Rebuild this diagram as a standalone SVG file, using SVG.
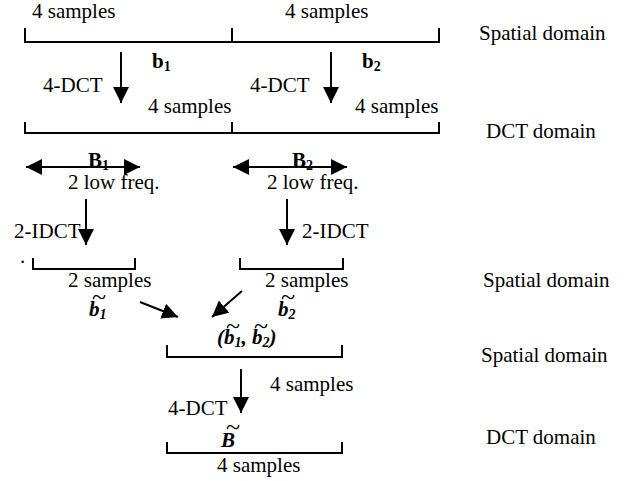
<svg xmlns="http://www.w3.org/2000/svg" width="636" height="481" viewBox="0 0 636 481">
<style>
.t,.b,.bi{font-family:'Liberation Serif','Times New Roman',serif;font-size:21px;fill:#000}
.b{font-weight:bold}
.bi{font-weight:bold;font-style:italic}
.sub{font-size:14px}
.tl{font-size:26px;font-style:normal;font-weight:normal}
.ln{stroke:#000;stroke-width:2;fill:none}
</style>
<defs>
<marker id="ah" markerUnits="userSpaceOnUse" markerWidth="16" markerHeight="16" refX="15" refY="7.5" orient="auto-start-reverse" viewBox="0 0 15 15">
<path d="M0,0 L15,7.5 L0,15 z" fill="#000"/>
</marker>
</defs>
<rect width="636" height="481" fill="#fff"/>

<g id="connectors">
<line class="ln" x1="121" y1="52" x2="121" y2="103" marker-end="url(#ah)"/>
<line class="ln" x1="331" y1="52" x2="331" y2="103" marker-end="url(#ah)"/>
<line class="ln" x1="26" y1="167" x2="140" y2="167" marker-start="url(#ah)" marker-end="url(#ah)"/>
<line class="ln" x1="233" y1="167" x2="347" y2="167" marker-start="url(#ah)" marker-end="url(#ah)"/>
<line class="ln" x1="86" y1="199" x2="86" y2="245" marker-end="url(#ah)"/>
<line class="ln" x1="287" y1="199" x2="287" y2="245" marker-end="url(#ah)"/>
<line class="ln" x1="140" y1="302" x2="178" y2="317" marker-end="url(#ah)"/>
<line class="ln" x1="242" y1="291" x2="212" y2="317" marker-end="url(#ah)"/>
<line class="ln" x1="241" y1="369" x2="241" y2="413" marker-end="url(#ah)"/>
</g>

<g id="spatial1">
<path class="ln" d="M25,28 V42 H439 V28 M232,28 V42"/>
<text class="t" x="32" y="18">4 samples</text>
<text class="t" x="285" y="18">4 samples</text>
<text class="t" x="479" y="40">Spatial domain</text>
</g>

<g id="dct1-labels">
<text class="b" x="152" y="68">b<tspan class="sub" dy="3">1</tspan></text>
<text class="t" x="43" y="92">4-DCT</text>
<text class="b" x="362" y="68">b<tspan class="sub" dy="3">2</tspan></text>
<text class="t" x="250" y="92">4-DCT</text>
</g>

<g id="dct1">
<path class="ln" d="M25,122 V133 H439 V122 M232,122 V133"/>
<text class="t" x="148" y="113">4 samples</text>
<text class="t" x="355" y="113">4 samples</text>
<text class="t" x="486" y="138">DCT domain</text>
</g>

<g id="B1">
<text class="b" x="88" y="167">B<tspan class="sub" dy="3">1</tspan></text>
<text class="t" x="68" y="189">2 low freq.</text>
</g>
<g id="B2">
<text class="b" x="292" y="167">B<tspan class="sub" dy="3">2</tspan></text>
<text class="t" x="267" y="189">2 low freq.</text>
</g>

<g id="idct-labels">
<text class="t" x="14" y="238">2-IDCT</text>
<text class="t" x="302" y="238">2-IDCT</text>
</g>

<g id="spatial2-left">
<text class="t" x="20" y="263" font-size="14">.</text>
<path class="ln" d="M33,258 V269 H135 V258"/>
<text class="t" x="68" y="287">2 samples</text>
<text class="bi" x="89" y="316">b<tspan class="sub" dy="3">1</tspan><tspan class="tl" x="92" y="305">~</tspan></text>
</g>
<g id="spatial2-right">
<path class="ln" d="M240,258 V269 H343 V258"/>
<text class="t" x="265" y="287">2 samples</text>
<text class="bi" x="278" y="316">b<tspan class="sub" dy="3">2</tspan><tspan class="tl" x="281" y="305">~</tspan></text>
<text class="t" x="483" y="287">Spatial domain</text>
</g>

<g id="combined">
<text class="bi" x="217" y="344">(b<tspan class="sub" dy="3">1</tspan><tspan dy="-3">, b</tspan><tspan class="sub" dy="3">2</tspan><tspan dy="-3">)</tspan><tspan class="tl" x="226" y="334">~</tspan><tspan class="tl" x="254" y="334">~</tspan></text>
<path class="ln" d="M167,345 V357 H342 V345"/>
<text class="t" x="481" y="362">Spatial domain</text>
<text class="t" x="270" y="391">4 samples</text>
<text class="t" x="168" y="415">4-DCT</text>
</g>

<g id="Btilde">
<text class="bi" x="221" y="447" font-size="25">B<tspan class="tl" x="226" y="435">~</tspan></text>
<path class="ln" d="M167,442 V453 H342 V442"/>
<text class="t" x="217" y="472">4 samples</text>
<text class="t" x="486" y="444">DCT domain</text>
</g>
</svg>
